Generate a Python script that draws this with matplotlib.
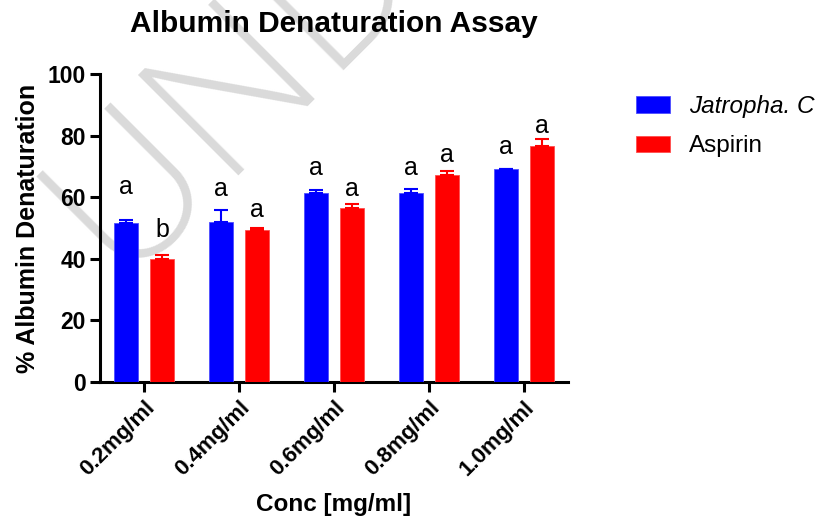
import matplotlib
matplotlib.use("Agg")
import matplotlib.pyplot as plt
import numpy as np

categories = ["0.2mg/ml", "0.4mg/ml", "0.6mg/ml", "0.8mg/ml", "1.0mg/ml"]
jatropha = [51.6, 52.1, 61.3, 61.3, 69.0]
jatropha_err = [1.1, 3.9, 1.2, 1.4, 0.3]
aspirin = [39.9, 49.3, 56.6, 67.1, 76.7]
aspirin_err = [1.2, 0.7, 1.2, 1.5, 2.1]
jatropha_letters = ["a", "a", "a", "a", "a"]
aspirin_letters = ["b", "a", "a", "a", "a"]
jatropha_letter_y = [63.3, 62.7, 69.5, 69.6, 76.4]
aspirin_letter_y = [49.4, 55.9, 62.7, 73.7, 83.1]

plt.rcParams['font.family'] = ['Liberation Sans', 'DejaVu Sans']

fig = plt.figure(figsize=(8.28, 5.28), dpi=100)
ax = fig.add_axes([100/828, 1-382/528, 468/828, 308/528])
ax.set_zorder(1)
ax.patch.set_alpha(0)

# watermark
fig.text(125/828, 1-290/528, "UNDER REVIEW", fontsize=140, color='#dadada',
         family=['Inter', 'DejaVu Sans'], fontweight='light',
         rotation=45, rotation_mode='anchor', ha='left', va='baseline', zorder=0)

x = np.arange(len(categories))
w = 0.25
off = 0.19
blue = '#0000ff'
red = '#ff0000'
ax.bar(x - off, jatropha, w, color=blue, edgecolor='#4d4dff', linewidth=0.6, zorder=3, label='Jatropha. C')
ax.bar(x + off, aspirin, w, color=red, edgecolor='#ff4d4d', linewidth=0.6, zorder=3, label='Aspirin')
ax.errorbar(x - off, jatropha, yerr=[np.zeros(len(x)), jatropha_err], fmt='none',
            ecolor=blue, elinewidth=1.5, capsize=5, capthick=1.5, zorder=4)
ax.errorbar(x + off, aspirin, yerr=[np.zeros(len(x)), aspirin_err], fmt='none',
            ecolor=red, elinewidth=1.5, capsize=5, capthick=1.5, zorder=4)

for xi, t, yy in zip(x - off, jatropha_letters, jatropha_letter_y):
    ax.text(xi, yy, t, ha='center', va='center', fontsize=18, zorder=5)
for xi, t, yy in zip(x + off, aspirin_letters, aspirin_letter_y):
    ax.text(xi, yy, t, ha='center', va='center', fontsize=18, zorder=5)

ax.set_xlim(-0.463, 4.463)
ax.set_ylim(0, 100)
ax.set_yticks([0, 20, 40, 60, 80, 100])
ax.set_xticks(x)
ax.set_xticklabels(categories, rotation=45, ha='right', rotation_mode='anchor',
                   fontsize=16, fontweight='bold')
for lab in ax.get_yticklabels():
    lab.set_fontsize(16.5)
    lab.set_fontweight('bold')
ax.spines['top'].set_visible(False)
ax.spines['right'].set_visible(False)
ax.spines['left'].set_linewidth(2.2)
ax.spines['bottom'].set_linewidth(2.2)
ax.tick_params(axis='both', width=2.2, length=7, color='black')
ax.tick_params(axis='x', pad=4)
ax.tick_params(axis='y', pad=3)

ax.set_ylabel("% Albumin Denaturation", fontsize=18, fontweight='bold', labelpad=6)
ax.set_xlabel("Conc [mg/ml]", fontsize=17.5, fontweight='bold', labelpad=9)
ax.set_title("Albumin Denaturation Assay", fontsize=21.5, fontweight='bold', pad=30)

leg = ax.legend(loc='upper left', bbox_to_anchor=(1.098, 1.003), frameon=False,
                fontsize=17.5, handlelength=1.4, handleheight=0.66, labelspacing=0.72,
                handletextpad=0.78)
leg.get_texts()[0].set_fontstyle('italic')

fig.savefig("out.png", dpi=100)
